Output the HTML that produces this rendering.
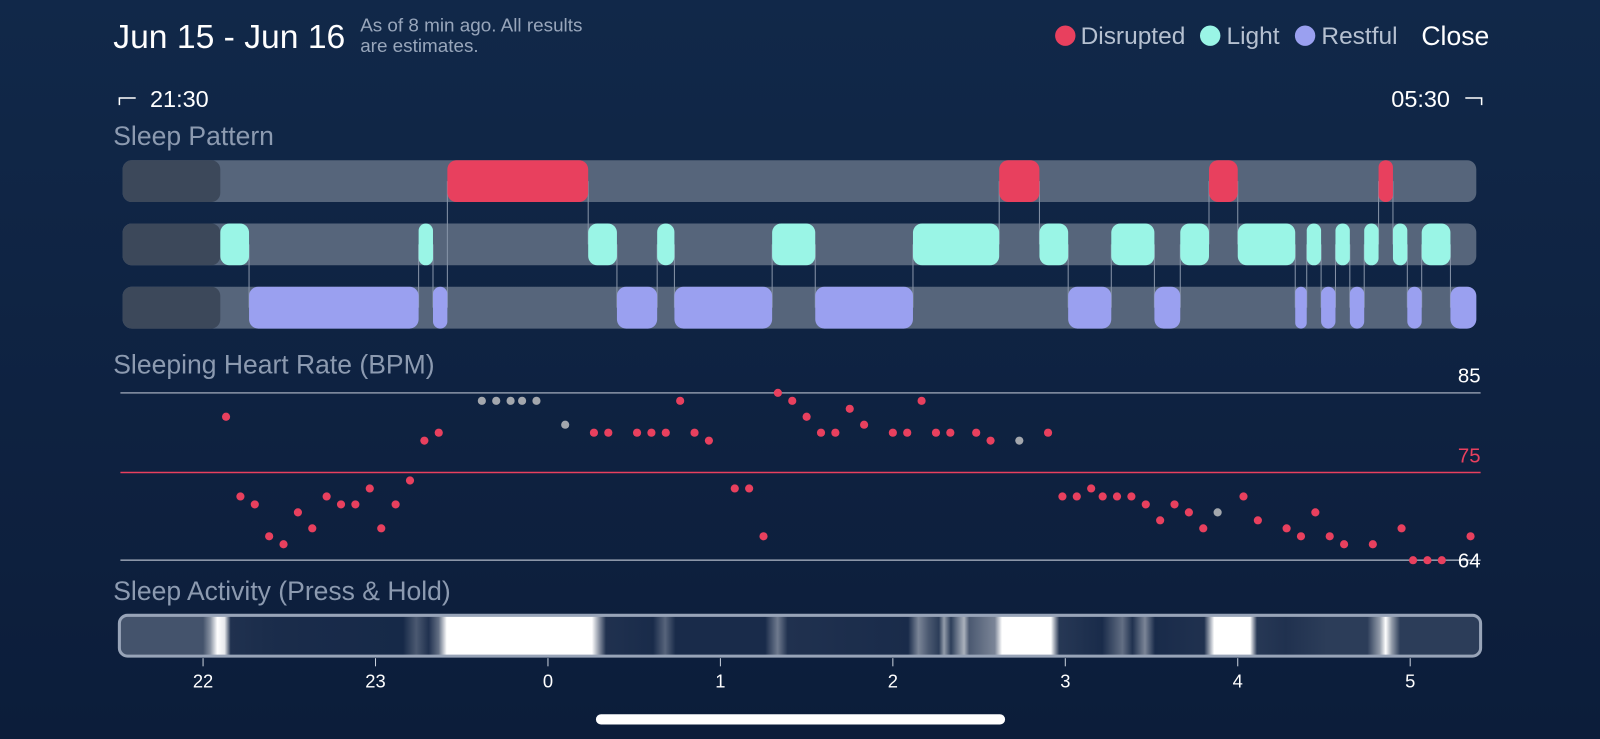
<!DOCTYPE html>
<html><head><meta charset="utf-8"><style>
html,body{margin:0;padding:0;background:#0f2442;}
svg{display:block;font-family:"Liberation Sans",sans-serif;}
</style></head><body>
<svg id="c" width="1600" height="739" viewBox="0 0 1600 739">
<defs>
<linearGradient id="bg" x1="0" y1="0" x2="0" y2="1"><stop offset="0" stop-color="#112849"/><stop offset="1" stop-color="#0c1d3a"/></linearGradient>
<linearGradient id="act" x1="0" y1="0" x2="1" y2="0" gradientUnits="userSpaceOnUse"></linearGradient>
</defs>
<rect width="1600" height="739" fill="url(#bg)"/>
<g transform="scale(1.0204)">
<text x="111" y="47" font-size="33" fill="#fff">Jun 15 - Jun 16</text>
<text x="353" y="31" font-size="18.5" fill="#98a6bb">As of 8 min ago. All results</text>
<text x="353" y="51" font-size="18.5" fill="#98a6bb">are estimates.</text>
<g>
<circle cx="1044" cy="35" r="10" fill="#e8405e"/>
<text x="1059" y="43" font-size="24" fill="#b5c0d0">Disrupted</text>
<circle cx="1186" cy="35" r="10" fill="#9af5e6"/>
<text x="1202" y="43" font-size="24" fill="#b5c0d0">Light</text>
<circle cx="1279" cy="35" r="10" fill="#9aa0f0"/>
<text x="1295" y="43" font-size="24" fill="#b5c0d0">Restful</text>
</g>
<text x="1393" y="44" font-size="26" fill="#fff">Close</text>
<path d="M117 103 V96 H133" stroke="#fff" stroke-width="1.5" fill="none"/>
<text x="147" y="105" font-size="23" fill="#fff">21:30</text>
<path d="M1436 96 H1452 V103" stroke="#fff" stroke-width="1.5" fill="none"/>
<text x="1421" y="105" font-size="23" fill="#fff" text-anchor="end">05:30</text>
<text x="111" y="142" font-size="26" fill="#8c9ab0">Sleep Pattern</text>
<text x="111" y="366" font-size="26" fill="#8c9ab0">Sleeping Heart Rate (BPM)</text>
<text x="111" y="588" font-size="26" fill="#8c9ab0">Sleep Activity (Press &amp; Hold)</text>
<g id="pattern"></g>
<g id="hr"></g>
<g id="activity"></g>
<g id="axis"></g>
<rect x="584" y="700" width="401" height="10" rx="5" fill="#fff"/>
</g>
</svg>
<script>
// minutes relative to 22:00
const disrupted = [[85,134],[277,291],[350,360],[409,414]];
const light = [[6,16],[75,80],[134,144],[158,164],[198,213],[247,277],[291,301],[316,331],[340,350],[360,380],[384,389],[394,399],[404,409],[414,419],[424,434]];
const restful = [[16,75],[80,85],[144,158],[164,198],[213,247],[301,316],[331,340],[380,384],[389,394],[399,404],[419,424],[434,443]];
const hrMinutes = [8,13,18,23,28,33,38,43,48,53,58,62,67,72,77,82,97,102,107,111,116,126,136,141,151,156,161,166,171,176,185,190,195,200,205,210,215,220,225,230,240,245,250,255,260,269,274,284,294,299,304,309,313,318,323,328,333,338,343,348,353,362,367,377,382,387,392,397,407,417,421,426,431,441];
const hrValues = [82,72,71,67,66,70,68,72,71,71,73,68,71,74,79,80,84,84,84,84,84,81,80,80,80,80,80,84,80,79,73,73,67,85,84,82,80,80,83,81,80,80,84,80,80,80,79,79,80,72,72,73,72,72,72,71,69,71,70,68,70,72,69,68,67,70,67,66,66,68,64,64,64,67];
const hrEstimated = [97,102,107,111,116,126,284,353];
const hrTicks = [85,75,64];
const hourLabels = ["22","23","0","1","2","3","4","5"];
const actMinutes = [-28,0,2.5,5,7.5,9.6,21.7,35.9,69.6,74.2,78.5,82,84.8,135.3,138.1,140.2,156.6,160.8,164.4,195.6,199.9,203.4,245.3,248.9,252.4,256,257.8,260.2,264.8,266.6,275.5,278,295,297.9,312.8,319.9,323.4,327.7,331.2,348.3,351.8,364.3,366.7,376.7,390.9,405.1,409.4,411.5,413.6,416.5,443.4];
const actLevels = [0.22,0.22,0.5,1,0.9,0.07,0.05,0.04,0.03,0.25,0.07,0.35,1,1,0.45,0.07,0.04,0.3,0.04,0.04,0.4,0.07,0.04,0.45,0.25,0.12,0.55,0.12,0.65,0.25,0.45,1,1,0.1,0.04,0.35,0.07,0.45,0.04,0.07,1,1,0.1,0.07,0.12,0.12,0.55,1,0.55,0.12,0.12];

const NS="http://www.w3.org/2000/svg";
const x = m => 199 + m*169/60;
const y = v => 385 + (85-v)*164/21;
function mk(tag, attrs, parent){const e=document.createElementNS(NS,tag);for(const k in attrs)e.setAttribute(k,attrs[k]);parent.appendChild(e);return e;}

// sleep pattern
const pat=document.getElementById('pattern');
const rowsY=[157,219,281], rowH=41;
const rowNames=['disrupted-row','light-row','restful-row'];
const rowData=[disrupted,light,restful];
const rowColors=['#e8405e','#9af5e6','#9aa0f0'];
rowsY.forEach((ry,i)=>{
  const t=mk('rect',{x:x(-28),y:ry,width:x(443)-x(-28),height:rowH,rx:9,fill:'#56657b'},pat);
  
  
  const d=mk('rect',{x:x(-28),y:ry,width:x(6)-x(-28),height:rowH,rx:9,fill:'#3c485a'},pat);
  
  
});
const all=[];
rowData.forEach((arr,r)=>arr.forEach(s=>all.push({s:s[0],e:s[1],r})));
all.sort((a,b)=>a.s-b.s);
for(let i=0;i<all.length-1;i++){
  const a=all[i],b=all[i+1];
  if(a.r===b.r) continue;
  const top=Math.min(a.r,b.r),bot=Math.max(a.r,b.r);
  const xx=x(b.s);
  const l=mk('line',{x1:xx,x2:xx,y1:rowsY[top]+rowH/2,y2:rowsY[bot]+rowH/2,stroke:'#8794a8','stroke-width':1},pat);
  
  
}
rowData.forEach((arr,r)=>arr.forEach(s=>{
  const e=mk('rect',{x:x(s[0]),y:rowsY[r],width:Math.max(x(s[1])-x(s[0]),4),height:rowH,rx:Math.min(9,(x(s[1])-x(s[0]))/2),fill:rowColors[r]},pat);
  
  
}));

// heart rate
const hr=document.getElementById('hr');
hrTicks.forEach((v,i)=>{
  const red=v===75;
  const l=mk('line',{x1:118,x2:1451,y1:y(v),y2:y(v),stroke:red?'#e8405e':'#8b96a8','stroke-width':1.5},hr);
  
  
  const t=mk('text',{x:1451,y:v===64?y(v)+7:y(v)-10,'font-size':20,fill:red?'#e8405e':'#fff','text-anchor':'end'},hr);
  t.textContent=v;
  
  
});
hrMinutes.forEach((m,i)=>{
  const est=hrEstimated.includes(m);
  const c=mk('circle',{cx:x(m),cy:y(hrValues[i]),r:4,fill:est?'#a3a7ad':'#e8405e'},hr);
  
  
});

// activity
const g=document.getElementById('act');
const x0=x(-28), x1=x(443.4);
g.setAttribute('x1',x0); g.setAttribute('x2',x1);
const base=[15,34,66];
actMinutes.forEach((m,i)=>{
  const a=actLevels[i];
  const c=base.map(v=>Math.round(v+(255-v)*a));
  mk('stop',{offset:((x(m)-x0)/(x1-x0)).toFixed(4),'stop-color':`rgb(${c.join(',')})`},g);
});
const act=document.getElementById('activity');
const ab=mk('rect',{x:117,y:603,width:1334,height:40,rx:8,fill:'url(#act)',stroke:'#98a4b8','stroke-width':3},act);



// axis
const ax=document.getElementById('axis');
hourLabels.forEach((h,i)=>{
  const xx=x(i*60);
  const tk=mk('line',{x1:xx,x2:xx,y1:645,y2:653,stroke:'#c8d0dc','stroke-width':1},ax);
  
  
  const t=mk('text',{x:xx,y:674,'font-size':18,fill:'#fff','text-anchor':'middle'},ax);
  t.textContent=h;
  
  
});
</script>
</body></html>
